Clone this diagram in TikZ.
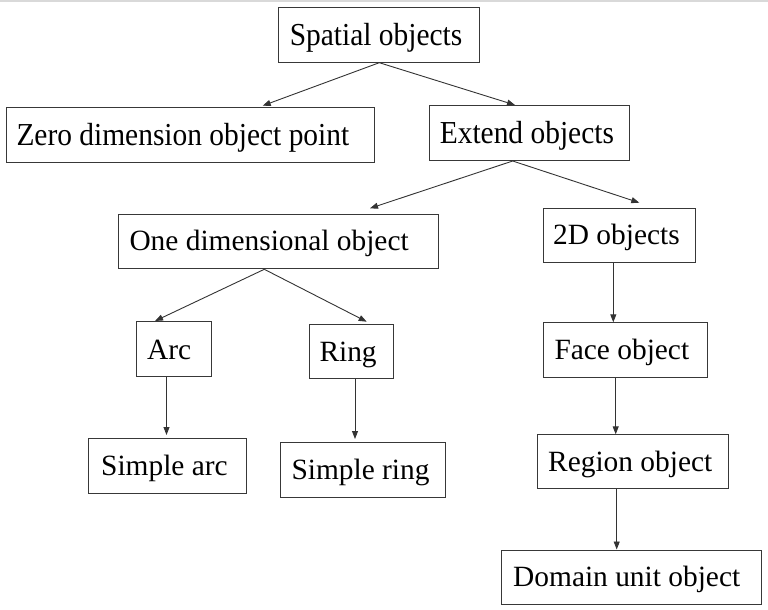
\documentclass[tikz,border=0pt]{standalone}
\usepackage{fontspec}
\usepackage{graphicx}
\setmainfont{Liberation Serif}
\usetikzlibrary{arrows.meta}
\newcommand\topfont[1]{\scalebox{0.92}[1]{\fontsize{32}{36}\selectfont #1}}
\newcommand\lowfont[1]{{\fontsize{29.4}{34}\selectfont #1}}
% name, x0, y0, x1, y1, baseline, textleft, text
\newcommand\mybox[8]{%
  \pgfmathsetmacro\bxw{#4-#2}%
  \pgfmathsetmacro\bxh{#6-#3}%
  \pgfmathsetmacro\bxd{#5-#6}%
  \pgfmathsetmacro\bxl{#7-#2}%
  \node[boxstyle, text height=\bxh pt, text depth=\bxd pt, anchor=north west]
    (#1) at (#2pt,-#3pt) {\makebox[\bxw pt][l]{\hspace*{\bxl pt}#8}};}
\tikzset{
  boxstyle/.style={draw=black!78, line width=1pt, inner sep=0pt, fill=white},
  arr/.style={draw=black!80, line width=0.9pt, -{Triangle[length=8pt,width=6pt]}}
}
\begin{document}
\begin{tikzpicture}
\useasboundingbox (0,0) rectangle (768pt,-610pt);
\fill[black!15] (0,0) rectangle (768pt,-2pt);
\mybox{sp}{278.3}{6.7}{479.3}{61.7}{45}{289.3}{\topfont{Spatial objects}}
\mybox{zero}{6}{107.3}{374}{161.5}{145}{16}{\topfont{Zero dimension object point}}
\mybox{ext}{428.7}{105}{629.3}{160}{143.3}{439.3}{\topfont{Extend objects}}
\mybox{one}{118.3}{214.3}{437.5}{268.3}{250.3}{129}{\lowfont{One dimensional object}}
\mybox{twod}{542.5}{207.5}{695}{262}{244.3}{552.7}{\lowfont{2D objects}}
\mybox{arc}{136}{321}{211}{375.7}{359.3}{146.7}{\lowfont{Arc}}
\mybox{ring}{309.3}{324}{393.3}{378.3}{361}{319}{\lowfont{Ring}}
\mybox{face}{543.3}{322.3}{706.7}{376.7}{359}{554}{\lowfont{Face object}}
\mybox{sarc}{88.3}{438.3}{245.7}{492.7}{475}{100.7}{\lowfont{Simple arc}}
\mybox{sring}{280}{442.3}{445}{496.7}{479.3}{291}{\lowfont{Simple ring}}
\mybox{region}{537.3}{434.3}{727.7}{488.3}{470.7}{547.7}{\lowfont{Region object}}
\mybox{domain}{501}{549.5}{760.7}{604.2}{585.7}{512.7}{\lowfont{Domain unit object}}
% connectors
\draw[arr] (sp.south) -- ([xshift=256.7pt,yshift=1.6pt]zero.north west);
\draw[arr] (sp.south) -- ([xshift=86.3pt]ext.north west);
\draw[arr] ([xshift=84pt]ext.south west) -- ([xshift=251.7pt,yshift=6pt]one.north west);
\draw[arr] ([xshift=84pt]ext.south west) -- ([xshift=96.8pt,yshift=4.8pt]twod.north west);
\draw[arr] ([xshift=146pt]one.south west) -- ([xshift=19pt]arc.north west);
\draw[arr] ([xshift=146pt]one.south west) -- ([xshift=57.4pt,yshift=2.3pt]ring.north west);
\draw[arr] ([xshift=30.5pt]arc.south west) -- ([xshift=78.2pt,yshift=3.3pt]sarc.north west);
\draw[arr] ([xshift=45.7pt]ring.south west) -- ([xshift=75pt,yshift=3.3pt]sring.north west);
\draw[arr] ([xshift=70.8pt]twod.south west) -- ([xshift=70pt]face.north west);
\draw[arr] ([xshift=72.4pt]face.south west) -- ([xshift=78.4pt]region.north west);
\draw[arr] ([xshift=79.4pt]region.south west) -- ([xshift=115.7pt]domain.north west);
\end{tikzpicture}
\end{document}
